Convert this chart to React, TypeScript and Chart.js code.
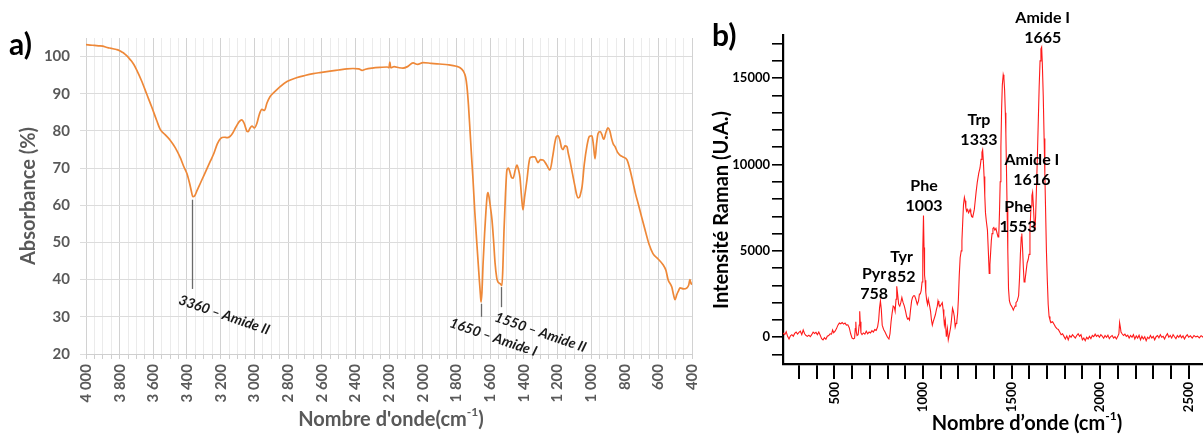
import React, { useEffect, useRef } from "react";
import { Chart, registerables } from "chart.js";

Chart.register(...registerables);

const FONT = "Lato, 'Open Sans', 'DejaVu Sans', sans-serif";
const GRAY = "#595959";

// ---------------- Panel a) FTIR ----------------
const ftirSpectrum: [number, number][] = [
  [4000, 103.2], [3975, 103.1], [3950, 103.0], [3925, 102.9], [3900, 102.8], [3880, 102.5],
  [3860, 102.3], [3840, 102.1], [3820, 101.9], [3800, 101.6], [3790, 101.3], [3775, 100.9],
  [3760, 100.3], [3745, 99.6], [3730, 98.8], [3715, 97.8], [3700, 96.5], [3670, 93.5],
  [3640, 90.0], [3610, 86.5], [3580, 82.8], [3560, 80.5], [3530, 79.0], [3500, 77.5],
  [3470, 75.5], [3440, 72.8], [3420, 70.5], [3400, 68.5], [3385, 66.0], [3375, 64.0],
  [3365, 62.3], [3355, 62.5], [3340, 64.0], [3320, 66.0], [3300, 68.0], [3280, 70.0],
  [3260, 72.0], [3240, 74.0], [3220, 76.5], [3200, 78.0], [3180, 78.3], [3160, 78.2],
  [3145, 78.5], [3130, 79.3], [3110, 81.0], [3090, 82.5], [3075, 83.0], [3060, 82.0],
  [3045, 80.0], [3037, 79.8], [3025, 80.8], [3014, 81.3], [3000, 80.8], [2985, 82.0],
  [2970, 84.5], [2955, 85.8], [2940, 85.5], [2925, 87.5], [2907, 89.2], [2880, 90.5],
  [2850, 91.8], [2806, 93.3], [2750, 94.3], [2700, 94.9], [2650, 95.4], [2610, 95.7],
  [2550, 96.1], [2500, 96.4], [2450, 96.7], [2414, 96.8], [2380, 96.7], [2360, 96.3],
  [2340, 96.6], [2300, 96.9], [2250, 97.1], [2210, 97.2], [2200, 97.0], [2195, 98.5],
  [2190, 97.0], [2170, 97.3], [2140, 97.0], [2117, 96.9], [2090, 97.3], [2057, 98.3],
  [2030, 97.9], [1998, 98.4], [1950, 98.2], [1900, 98.0], [1850, 97.8], [1800, 97.4],
  [1778, 97.0], [1760, 96.2], [1745, 94.5], [1737, 92.0], [1728, 87.0], [1719, 80.3],
  [1710, 73.5], [1701, 67.0], [1690, 58.0], [1677, 49.0], [1665, 41.0], [1657, 36.0],
  [1653, 34.0], [1648, 36.5], [1641, 44.5], [1632, 52.5], [1624, 58.5], [1617, 62.5],
  [1612, 63.4], [1605, 62.0], [1596, 59.0], [1588, 56.0], [1578, 50.0], [1570, 44.5],
  [1560, 40.5], [1553, 39.4], [1540, 38.9], [1529, 38.4], [1523, 44.0], [1517, 53.0],
  [1508, 63.0], [1499, 69.6], [1490, 70.0], [1481, 68.8], [1472, 67.5], [1463, 67.3],
  [1450, 69.5], [1440, 70.8], [1430, 69.5], [1422, 67.5], [1412, 62.0], [1404, 58.8],
  [1395, 62.0], [1380, 67.0], [1370, 71.0], [1362, 72.8], [1345, 73.0], [1333, 73.0],
  [1322, 72.0], [1315, 71.5], [1300, 72.3], [1285, 72.2], [1265, 71.0], [1244, 69.5],
  [1228, 73.0], [1214, 77.0], [1205, 78.5], [1196, 78.7], [1185, 77.5], [1175, 75.5],
  [1166, 75.0], [1155, 76.0], [1143, 75.8], [1135, 74.0], [1125, 72.0], [1110, 68.5],
  [1095, 65.0], [1085, 62.8], [1077, 62.0], [1068, 62.2], [1060, 63.5], [1053, 65.0],
  [1040, 71.0], [1024, 76.0], [1010, 78.5], [994, 78.7], [985, 76.0], [976, 72.5],
  [967, 76.5], [958, 79.3], [946, 79.8], [935, 79.0], [928, 78.0], [923, 77.8],
  [912, 79.5], [899, 80.8], [888, 80.0], [878, 78.0], [868, 76.5], [857, 75.8],
  [843, 74.3], [828, 73.5], [810, 73.0], [786, 72.2], [768, 69.5], [750, 66.0],
  [735, 63.0], [720, 60.5], [700, 57.0], [679, 53.4], [655, 49.5], [632, 47.0],
  [600, 45.5], [572, 44.0], [555, 42.5], [542, 40.0], [520, 38.0], [510, 36.0],
  [501, 34.6], [490, 36.0], [480, 37.0], [471, 37.8], [450, 37.5], [430, 37.8],
  [420, 38.5], [412, 40.0], [405, 38.8], [400, 39.2],
];
const ftirXMin = 400;
const ftirXMax = 4000;
const ftirXStep = 50;
const ftirXLabelStep = 200;
const ftirYMin = 20;
const ftirYMax = 105;
const ftirYStep = 10;
const ftirPeakLabels = ["3360 – Amide II", "1650 – Amide I", "1550 – Amide II"];
const ftirPeakWave = [3372, 1653, 1534];
const ftirPeakLineFrom = [61.5, 33.5, 38.0];
const ftirPeakLineTo = [37.5, 30.0, 32.6];

// ---------------- Panel b) Raman ----------------
const ramanSpectrum: [number, number][] = [
  [210, 250], [220, 150], [228, 320], [236, 50], [244, -100], [252, 80], [260, 150], [268, 60],
  [276, 220], [284, 300], [292, 180], [300, 280], [308, 350], [316, 150], [324, 420], [332, 200],
  [340, 100], [348, 50], [356, 120], [364, 30], [372, 150], [380, 300], [388, 220], [396, 280],
  [404, 150], [412, 300], [420, 120], [428, -80], [436, -150], [444, -30], [452, -120], [460, 60],
  [468, 100], [476, 200], [484, 180], [490, 420], [496, 260], [504, 350], [512, 500], [520, 700],
  [528, 820], [536, 780], [544, 850], [552, 760], [560, 820], [568, 700], [576, 720], [584, 550],
  [592, 200], [600, -50], [608, -100], [614, -60], [618, 500], [621, 900], [624, 300], [628, 100],
  [634, 150], [640, 700], [643, 1500], [646, 900], [650, 250], [656, 150], [664, 250], [672, 180],
  [680, 350], [688, 200], [696, 300], [704, 250], [712, 380], [720, 300], [728, 450], [736, 400],
  [744, 600], [750, 1000], [755, 1700], [760, 2100], [765, 1600], [770, 700], [778, 450], [786, 300],
  [793, 150], [800, 0], [808, -100], [814, 200], [820, 900], [826, 1400], [832, 1800], [838, 1750],
  [843, 1500], [848, 2200], [852, 2950], [857, 2500], [863, 1900], [869, 1800], [875, 2000], [881, 2300],
  [888, 2000], [895, 1800], [902, 1500], [908, 1200], [913, 1050], [918, 1100], [924, 1000], [930, 1600],
  [936, 2100], [941, 2300], [947, 2400], [953, 2400], [960, 2200], [968, 1900], [975, 2100], [980, 2500],
  [985, 2500], [990, 2700], [995, 3200], [999, 5000], [1003, 7050], [1006, 5200], [1009, 3600], [1012, 3300],
  [1016, 2600], [1021, 2150], [1026, 1900], [1030, 2200], [1034, 2200], [1038, 1800], [1043, 1500], [1048, 1000],
  [1053, 700], [1058, 900], [1064, 1100], [1070, 1300], [1076, 1600], [1081, 1800], [1085, 2100], [1090, 1900],
  [1097, 1800], [1103, 1900], [1109, 2000], [1114, 1600], [1118, 1100], [1121, 700], [1126, 1000], [1132, 30],
  [1138, 500], [1143, -150], [1148, 100], [1155, 500], [1160, 900], [1167, 1680], [1172, 1500], [1177, 1200],
  [1182, 600], [1187, 800], [1191, 900], [1196, 1400], [1200, 2200], [1205, 3600],
  [1210, 4600], [1216, 5000], [1220, 5600], [1225, 6800], [1229, 7700], [1234, 8100], [1238, 7900], [1242, 7500],
  [1246, 7300], [1250, 7400], [1254, 7300], [1258, 7200], [1262, 7300], [1266, 7400], [1270, 7200], [1276, 7000],
  [1281, 6950], [1286, 7200], [1290, 7400], [1294, 7800], [1300, 8400], [1307, 9000], [1315, 9500], [1322, 9800],
  [1328, 10300], [1333, 10700], [1337, 10850], [1341, 10200], [1345, 9300], [1349, 8200], [1353, 7200], [1358, 6700],
  [1364, 6200], [1369, 5000], [1374, 3700], [1378, 4200], [1382, 4900], [1386, 5600], [1390, 6000], [1395, 6300],
  [1400, 6350], [1406, 6200], [1412, 6300], [1419, 6000], [1424, 5800], [1428, 5900], [1432, 7200], [1436, 9000],
  [1440, 11000], [1444, 13200], [1448, 14600], [1453, 15200], [1457, 15000], [1461, 14300], [1465, 13000], [1468, 11800],
  [1471, 10000], [1475, 7500], [1479, 5000], [1483, 2800], [1488, 2100], [1494, 1900], [1500, 1800], [1505, 1700],
  [1510, 1570], [1515, 1700], [1520, 1800], [1525, 2000], [1532, 2100], [1540, 2400], [1545, 3400], [1550, 4800],
  [1555, 5800], [1558, 6000], [1562, 5200], [1567, 4000], [1571, 3200], [1576, 3300], [1582, 3800], [1588, 4300],
  [1594, 4500], [1599, 4800], [1604, 6200], [1610, 7600], [1615, 8200], [1619, 8400], [1624, 7500], [1628, 6600],
  [1632, 6200], [1636, 7000], [1641, 8700], [1646, 10500], [1651, 12500], [1656, 14500], [1661, 16000], [1666, 16700],
  [1670, 16800], [1674, 15800], [1679, 14000], [1684, 11500], [1688, 9500], [1692, 7500], [1697, 5000], [1702, 3300],
  [1707, 1900], [1712, 1200], [1717, 1000], [1724, 850], [1732, 900], [1740, 750], [1748, 600], [1756, 500],
  [1764, 450], [1772, 300], [1780, 150], [1788, 200], [1796, 50], [1804, -100], [1812, 80], [1820, -150],
  [1828, 100], [1836, 0], [1844, 150], [1852, 50], [1860, -50], [1868, 100], [1876, 200], [1884, 50],
  [1892, 150], [1900, -150], [1908, -50], [1916, -200], [1924, 0], [1932, -100], [1940, 50], [1948, -80],
  [1956, 100], [1964, 30], [1972, 180], [1980, 50], [1988, 120], [1996, 0], [2004, 150], [2012, 60],
  [2020, -60], [2028, 100], [2036, 0], [2044, 120], [2052, -80], [2060, 40], [2068, 100], [2076, -50],
  [2084, 30], [2092, -100], [2100, 50], [2106, 200], [2110, 850], [2114, 600], [2118, 300], [2124, 200],
  [2132, 100], [2140, 180], [2148, 50], [2156, 120], [2164, -50], [2172, 100], [2180, 0], [2188, 150],
  [2196, -100], [2204, 80], [2212, -50], [2220, 120], [2228, -150], [2236, 50], [2244, -100], [2252, 30],
  [2260, -200], [2268, 0], [2276, -80], [2284, 100], [2292, -50], [2300, 50], [2308, -150], [2316, 30],
  [2324, 100], [2332, -30], [2340, 150], [2348, 0], [2356, 50], [2364, -100], [2372, 80], [2380, 200],
  [2388, 0], [2396, 100], [2404, -50], [2412, 150], [2420, 30], [2428, -80], [2436, 100], [2444, 0],
  [2452, 120], [2460, -30], [2468, 80], [2476, -100], [2484, 50], [2492, 150], [2500, 0], [2510, 80],
  [2520, -50], [2530, 100], [2540, 20], [2550, 60], [2560, -40], [2570, 90], [2580, 10], [2590, 50],
  [2600, 0],
];
const ramanXMin = 210;
const ramanXMax = 2600;
const ramanXStep = 100;
const ramanXLabelStep = 500;
const ramanYMin = -1550;
const ramanYMax = 17500;
const ramanYStep = 1000;
const ramanYLabelStep = 5000;
const ramanPeakNames = ["Amide I", "Trp", "Amide I", "Phe", "Phe", "Tyr", "Pyr"];
const ramanPeakWave = ["1665", "1333", "1616", "1553", "1003", "852", "758"];
const ramanLabelX = [1676, 1316, 1615, 1537, 1006, 879, 724];
const ramanLabelY = [18475, 12587, 10277, 7564, 8776, 4677, 3695];

const fmtThousands = (v: number) => String(v).replace(/\B(?=(\d{3})+(?!\d))/g, " ");

// tick values at round multiples of the step inside [min, max]
function roundTicks(min: number, max: number, step: number) {
  const out: { value: number }[] = [];
  for (let v = Math.ceil(min / step) * step; v <= max; v += step) out.push({ value: v });
  return out;
}

function drawSupText(
  ctx: CanvasRenderingContext2D,
  main: string,
  sup: string,
  tail: string,
  cx: number,
  cy: number,
  size: number,
  color: string
) {
  const big = `bold ${size}px ${FONT}`;
  const small = `bold ${Math.round(size * 0.62)}px ${FONT}`;
  ctx.font = big;
  const w1 = ctx.measureText(main).width;
  const w3 = ctx.measureText(tail).width;
  ctx.font = small;
  const w2 = ctx.measureText(sup).width;
  const total = w1 + w2 + w3;
  let x = cx - total / 2;
  ctx.fillStyle = color;
  ctx.textBaseline = "middle";
  ctx.textAlign = "left";
  ctx.font = big;
  ctx.fillText(main, x, cy);
  x += w1;
  ctx.font = small;
  ctx.fillText(sup, x, cy - size * 0.38);
  x += w2;
  ctx.font = big;
  ctx.fillText(tail, x, cy);
}

const ftirDecor = {
  id: "ftirDecor",
  afterDraw(chart: any) {
    const { ctx, scales, chartArea } = chart;
    const xs = scales.x;
    const ys = scales.y;
    const offsets = [
      [-11, 4],
      [-29, -1],
      [-4, 3],
    ];
    ctx.save();
    ftirPeakLabels.forEach((label, i) => {
      const px = Math.round(xs.getPixelForValue(ftirPeakWave[i])) + 0.5;
      const y1 = ys.getPixelForValue(ftirPeakLineFrom[i]);
      const y2 = ys.getPixelForValue(ftirPeakLineTo[i]);
      ctx.strokeStyle = "#6a6a6a";
      ctx.lineWidth = 1.3;
      ctx.beginPath();
      ctx.moveTo(px, y1);
      ctx.lineTo(px, y2);
      ctx.stroke();
      ctx.save();
      ctx.translate(px + offsets[i][0], y2 + offsets[i][1]);
      ctx.rotate((19 * Math.PI) / 180);
      ctx.font = `italic bold 14px ${FONT}`;
      ctx.fillStyle = "#1a1a1a";
      ctx.textAlign = "left";
      ctx.textBaseline = "top";
      ctx.fillText(label, 0, 0);
      ctx.restore();
    });
    drawSupText(ctx, "Nombre d'onde(cm", "-1", ")", (chartArea.left + chartArea.right) / 2 + 2, 420, 20, GRAY);
    ctx.save();
    ctx.translate(29, (chartArea.top + chartArea.bottom) / 2);
    ctx.rotate(-Math.PI / 2);
    ctx.font = `bold 20px ${FONT}`;
    ctx.fillStyle = GRAY;
    ctx.textAlign = "center";
    ctx.textBaseline = "middle";
    ctx.fillText("Absorbance (%)", 0, 0);
    ctx.restore();
    ctx.font = `bold 30px ${FONT}`;
    ctx.fillStyle = "#000";
    ctx.textAlign = "left";
    ctx.textBaseline = "alphabetic";
    ctx.fillText("a)", 9, 55);
    ctx.restore();
  },
};

const ramanDecor = {
  id: "ramanDecor",
  afterDraw(chart: any) {
    const { ctx, scales } = chart;
    const xs = scales.x;
    const ys = scales.y;
    ctx.save();
    ctx.fillStyle = "#000";
    ctx.font = `bold 16px ${FONT}`;
    ctx.textAlign = "center";
    ctx.textBaseline = "middle";
    ramanPeakNames.forEach((name, i) => {
      const px = xs.getPixelForValue(ramanLabelX[i]);
      const py = ys.getPixelForValue(ramanLabelY[i]);
      ctx.fillText(name, px, py);
      ctx.fillText(ramanPeakWave[i], px, py + 20);
    });
    drawSupText(ctx, "Nombre d’onde (cm", "-1", ")", 322, 424, 20, "#000");
    ctx.save();
    ctx.translate(17, 210);
    ctx.rotate(-Math.PI / 2);
    ctx.font = `bold 20px ${FONT}`;
    ctx.fillStyle = "#000";
    ctx.textAlign = "center";
    ctx.textBaseline = "middle";
    ctx.fillText("Intensité Raman (U.A.)", 0, 0);
    ctx.restore();
    ctx.font = `bold 30px ${FONT}`;
    ctx.fillStyle = "#000";
    ctx.textAlign = "left";
    ctx.textBaseline = "alphabetic";
    ctx.fillText("b)", 7, 46);
    ctx.restore();
  },
};

function FtirChart() {
  const ref = useRef<HTMLCanvasElement | null>(null);
  useEffect(() => {
    if (!ref.current) return;
    const chart = new Chart(ref.current, {
      type: "line",
      data: {
        datasets: [
          {
            data: ftirSpectrum.map(([x, y]) => ({ x, y })),
            borderColor: "#EE8838",
            borderWidth: 1.7,
            pointRadius: 0,
            cubicInterpolationMode: "monotone",
            fill: false,
          },
        ],
      },
      options: {
        responsive: false,
        animation: false,
        events: [],
        layout: { padding: { top: 38, right: 13, left: 0, bottom: 0 }, autoPadding: false } as any,
        plugins: { legend: { display: false }, tooltip: { enabled: false } },
        scales: {
          x: {
            type: "linear",
            reverse: true,
            min: ftirXMin,
            max: ftirXMax,
            afterBuildTicks: (s: any) => {
              s.ticks = roundTicks(ftirXMin, ftirXMax, ftirXStep);
            },
            afterFit: (s: any) => {
              s.height = 80;
            },
            ticks: {
              autoSkip: false,
              minRotation: 90,
              maxRotation: 90,
              padding: 5,
              color: GRAY,
              font: { family: FONT, size: 15, weight: "bold" },
              callback: (v: any) => (Number(v) % ftirXLabelStep === 0 ? fmtThousands(Number(v)) : ""),
            },
            grid: {
              color: (c: any) => (c.tick && c.tick.value % ftirXLabelStep === 0 ? "#d2d2d2" : "#ebebeb"),
              tickColor: "#cfcfcf",
              tickLength: 5,
              lineWidth: 1,
            },
            border: { display: true, color: "#cfcfcf" },
          },
          y: {
            type: "linear",
            min: ftirYMin,
            max: ftirYMax,
            afterBuildTicks: (s: any) => {
              s.ticks = roundTicks(ftirYMin, ftirYMax, ftirYStep);
            },
            afterFit: (s: any) => {
              s.width = 86;
            },
            ticks: {
              autoSkip: false,
              padding: 10,
              color: GRAY,
              font: { family: FONT, size: 15, weight: "bold" },
            },
            grid: { color: "#dcdcdc", tickLength: 6, lineWidth: 1 },
            border: { display: false },
          },
        },
      } as any,
      plugins: [ftirDecor],
    });
    return () => chart.destroy();
  }, []);
  return (
    <canvas
      ref={ref}
      width={705}
      height={434}
      style={{ position: "absolute", left: 0, top: 0, width: 705, height: 434 }}
    />
  );
}

function RamanChart() {
  const ref = useRef<HTMLCanvasElement | null>(null);
  useEffect(() => {
    if (!ref.current) return;
    const chart = new Chart(ref.current, {
      type: "line",
      data: {
        datasets: [
          {
            data: ramanSpectrum.map(([x, y]) => ({ x, y })),
            borderColor: "#ff1a1a",
            borderWidth: 1.1,
            pointRadius: 0,
            tension: 0,
            fill: false,
          },
        ],
      },
      options: {
        responsive: false,
        animation: false,
        events: [],
        layout: { padding: { top: 35, right: 10, left: 0, bottom: 0 }, autoPadding: false } as any,
        plugins: { legend: { display: false }, tooltip: { enabled: false } },
        scales: {
          x: {
            type: "linear",
            min: ramanXMin,
            max: ramanXMax,
            afterBuildTicks: (s: any) => {
              s.ticks = roundTicks(ramanXMin, ramanXMax, ramanXStep);
            },
            afterFit: (s: any) => {
              s.height = 70;
            },
            ticks: {
              autoSkip: false,
              minRotation: 90,
              maxRotation: 90,
              padding: 3,
              color: "#000",
              font: { family: FONT, size: 13, weight: "bold" },
              callback: (v: any) => (Number(v) % ramanXLabelStep === 0 ? String(v) : ""),
            },
            grid: {
              drawOnChartArea: false,
              drawTicks: true,
              tickLength: 15,
              color: "#000",
              tickColor: "#000",
              lineWidth: 2,
            },
            border: { display: true, color: "#000", width: 2.2 },
          },
          y: {
            type: "linear",
            min: ramanYMin,
            max: ramanYMax,
            afterBuildTicks: (s: any) => {
              s.ticks = roundTicks(ramanYMin, ramanYMax, ramanYStep);
            },
            afterFit: (s: any) => {
              s.width = 78;
            },
            ticks: {
              autoSkip: false,
              padding: 2,
              color: "#000",
              font: { family: FONT, size: 13, weight: "bold" },
              callback: (v: any) => (Number(v) % ramanYLabelStep === 0 ? String(v) : ""),
            },
            grid: {
              drawOnChartArea: false,
              drawTicks: true,
              tickLength: 11,
              color: "#000",
              tickColor: "#000",
              lineWidth: 1.6,
            },
            border: { display: true, color: "#000", width: 2.2 },
          },
        },
      } as any,
      plugins: [ramanDecor],
    });
    return () => chart.destroy();
  }, []);
  return (
    <canvas
      ref={ref}
      width={520}
      height={434}
      style={{ position: "absolute", left: 705, top: 0, width: 520, height: 434 }}
    />
  );
}

export default function App() {
  return (
    <div
      style={{
        position: "fixed",
        left: 0,
        top: 0,
        width: 1203,
        height: 434,
        overflow: "hidden",
        background: "#fff",
      }}
    >
      <FtirChart />
      <RamanChart />
    </div>
  );
}
